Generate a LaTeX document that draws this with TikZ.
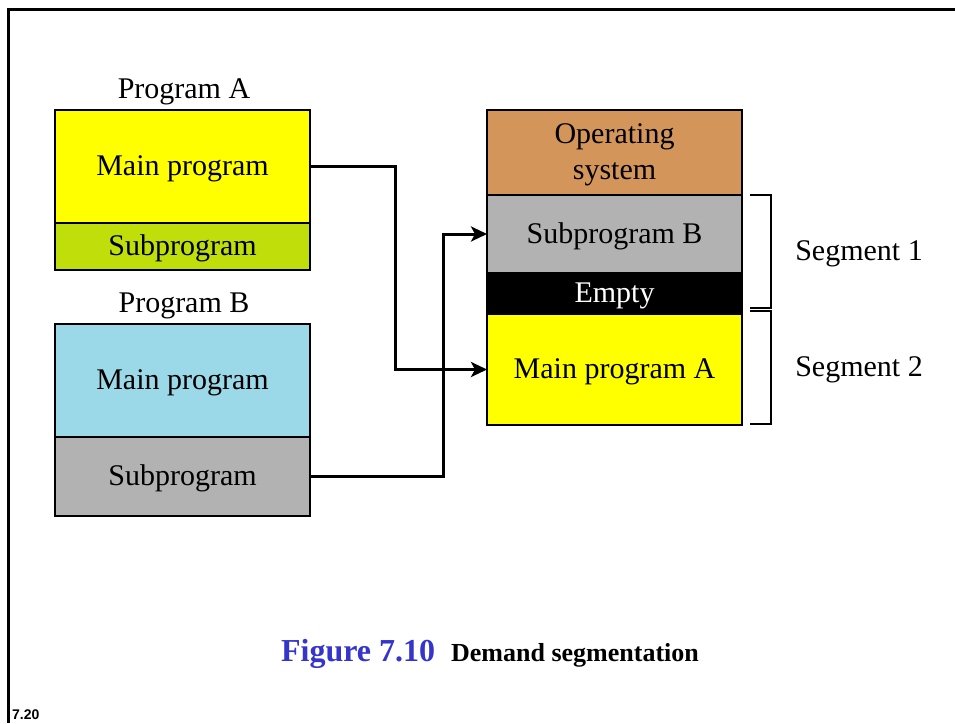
\documentclass[tikz,border=0pt]{standalone}
\usepackage{fontspec}
\setmainfont{Liberation Serif}
\newfontfamily\slidefont{Liberation Sans}
\usepackage{xcolor}
\usepackage{tikz}
\usetikzlibrary{arrows.meta,positioning}
\definecolor{progyellow}{HTML}{FFFF00}
\definecolor{subgreen}{HTML}{C0DF0A}
\definecolor{progblue}{HTML}{9BD9E8}
\definecolor{subgray}{HTML}{B2B2B2}
\definecolor{osorange}{HTML}{D4955A}
\definecolor{figblue}{HTML}{3535CC}
\tikzset{
  box/.style={draw=black, line width=1.5pt, minimum width=255pt, outer sep=0pt, inner sep=0pt, text height=20pt, text depth=2pt, font=\fontsize{30}{36}\selectfont, align=center},
  conn/.style={draw=black, line width=3pt, -{Stealth[length=16pt,width=15pt,inset=4pt]}},
  brace/.style={draw=black, line width=1.8pt},
  lab/.style={font=\fontsize{30}{36}\selectfont, inner sep=0pt},
  frame/.style={draw=black, line width=3pt},
}
\begin{document}
\begin{tikzpicture}[x=1pt,y=-1pt]
  \useasboundingbox (0,0) rectangle (955,723);
  \draw[frame] (8,723) |- (955,9);
  \node[lab,anchor=base] (labA) at (184,98) {Program A};
  \node[box,fill=progyellow,minimum height=113pt,anchor=north west] (amain) at (55,110) {Main program};
  \node[box,fill=subgreen,minimum height=47pt,below=0pt of amain] (asub) {Subprogram};
  \node[lab,anchor=base] (labB) at (184,312) {Program B};
  \node[box,fill=progblue,minimum height=113pt,anchor=north west] (bmain) at (55,324) {Main program};
  \node[box,fill=subgray,minimum height=79pt,below=0pt of bmain] (bsub) {Subprogram};
  \node[box,fill=osorange,minimum height=85pt,text height=56pt,anchor=north west] (os) at (487,110) {Operating\\system};
  \node[box,fill=subgray,minimum height=78pt,below=0pt of os] (memsub) {Subprogram B};
  \node[box,fill=black,text=white,minimum height=41pt,below=0pt of memsub] (empty) {Empty};
  \node[box,fill=progyellow,minimum height=111pt,below=0pt of empty] (memmain) {Main program A};
  \draw[conn] (amain.east) -- ++(85,0) |- (memmain.west);
  \draw[conn] (bsub.east) -- ++(133,0) |- (memsub.west);
  \foreach \n/\top/\bot in {1/195/308,2/311/424}{
    \draw[brace] (750,\top) -| (771,\bot) -- (750,\bot);
    \node[lab,text height=20pt,text depth=2pt] (seg\n) at (859,{(\top+\bot)/2}) {Segment \n};
  }
  \node[anchor=base,inner sep=0pt] (caption) at (490,661)
    {{\color{figblue}\fontsize{32}{36}\selectfont\bfseries Figure 7.10}\hspace{16pt}{\fontsize{26}{30}\selectfont\bfseries Demand segmentation}};
  \node[anchor=base west,inner sep=0pt,font=\slidefont\bfseries\fontsize{14}{16}\selectfont] (pagenum) at (12,719) {7.20};
\end{tikzpicture}
\end{document}
